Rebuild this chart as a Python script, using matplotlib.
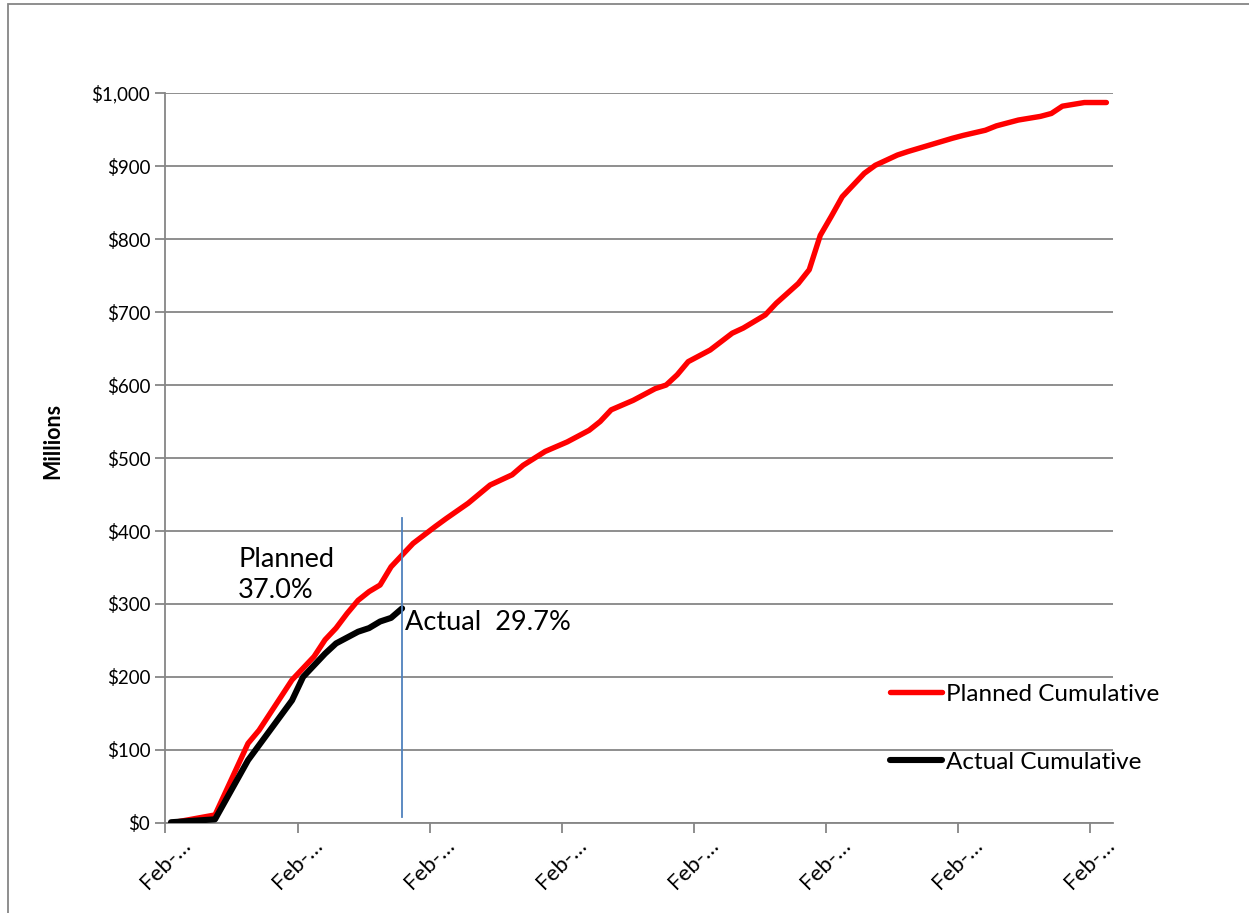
import matplotlib
matplotlib.use("Agg")
import matplotlib.pyplot as plt
from matplotlib.patches import Rectangle

plt.rcParams['font.family'] = ['Lato', 'DejaVu Sans']

# months since first tick (data sits mid-month), values in $ millions
planned_month = [0, 4, 7, 8, 10, 11, 13, 14, 15, 16, 17, 18, 19, 20, 21, 22, 24, 25, 27, 29,
                 31, 32, 34, 36, 38, 39, 40, 42, 44, 45, 46, 47, 49, 51, 52, 54, 55, 57, 58, 59,
                 60, 61, 63, 64, 66, 67, 69, 71, 72, 74, 75, 77, 79, 80, 81, 83, 85]
planned_value = [0, 11, 109, 127, 173, 196, 228, 251, 267, 287, 305, 317, 326, 351, 367, 383, 406, 417, 438, 463,
                 477, 490, 509, 522, 538, 550, 566, 579, 595, 600, 614, 632, 648, 671, 678, 696, 712, 739, 758, 805,
                 831, 858, 890, 901, 915, 920, 929, 938, 942, 949, 955, 963, 968, 972, 982, 987, 987]

actual_month = [0, 4, 7, 9, 11, 12, 14, 15, 17, 18, 19, 20, 21]
actual_value = [1, 5, 86, 127, 168, 200, 232, 246, 262, 267, 276, 281, 294]

status_month = 21
tick_labels = ["Feb-\u2026"] * 8
y_ticks = [0, 100, 200, 300, 400, 500, 600, 700, 800, 900, 1000]

fig = plt.figure(figsize=(12.49, 9.13), dpi=100)
ax = fig.add_axes([0.1325, 0.0986, 0.7586, 0.7995])

px = [m + 0.5 for m in planned_month]
ax_ = [m + 0.5 for m in actual_month]

ax.plot(px, planned_value, color='#ff0000', lw=3.9, solid_joinstyle='round',
        solid_capstyle='round', label='Planned Cumulative', zorder=3)
ax.plot(ax_, actual_value, color='#000000', lw=4.4, solid_joinstyle='round',
        solid_capstyle='round', label='Actual Cumulative', zorder=4)

# status date marker
ax.plot([status_month + 0.5, status_month + 0.5], [8, 418], color='#4f81bd', lw=1.3, zorder=5)
ax.text(6.6, 378, "Planned\n37.0%", fontsize=19.5, ha='left', va='top', linespacing=1.32)
ax.text(status_month + 0.8, 274, "Actual  29.7%", fontsize=19.5, ha='left', va='center')

ax.set_xlim(0, 86.1)
ax.set_ylim(0, 1000)
ax.set_xticks([12 * i for i in range(8)])
ax.set_xticklabels(tick_labels, rotation=45, ha='center', fontsize=16)
ax.set_yticks(y_ticks)
ax.set_yticklabels(["${:,}".format(v) for v in y_ticks], fontsize=13.5)
ax.yaxis.grid(True, color='#868686', lw=1.3)
ax.set_axisbelow(True)
for s in ['top', 'right']:
    ax.spines[s].set_visible(False)
for s in ['left', 'bottom']:
    ax.spines[s].set_color('#868686')
    ax.spines[s].set_linewidth(1.3)
ax.tick_params(axis='both', color='#868686', length=7, width=1.3, pad=4)
ax.tick_params(axis='x', pad=2)
ax.set_ylabel("Millions", fontsize=15.5, fontweight='bold')
ax.yaxis.set_label_coords(-0.108, 0.523)

ax.legend(loc='upper left', bbox_to_anchor=(0.7047, 0.262), bbox_transform=fig.transFigure,
          frameon=False, fontsize=17.5, handlelength=2.14, handletextpad=0.16,
          labelspacing=1.95, borderaxespad=0)

# outer chart frame
fig.patches.append(Rectangle((8 / 1249, -0.5), 2, 1.5 - 4 / 913, transform=fig.transFigure,
                             fill=False, edgecolor='#868686', lw=1.3))

fig.savefig("out.png", dpi=100)
